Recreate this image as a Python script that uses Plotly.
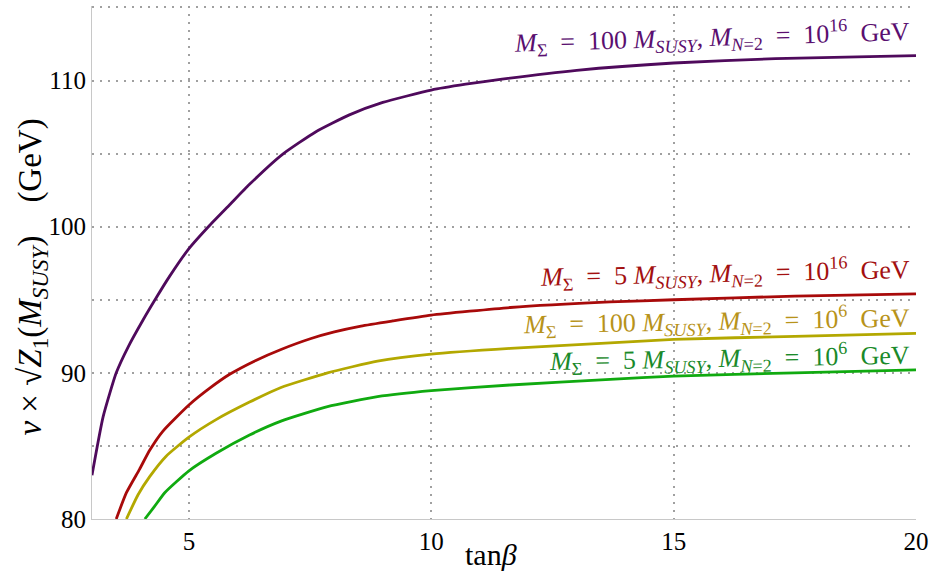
import plotly.graph_objects as go

# tan(beta) samples and curve values
x_purple = [3, 3.23, 3.5, 3.75, 4.05, 4.3, 4.6, 5, 5.43, 5.84, 6.25, 6.93, 7.62, 8.31, 9, 10, 10.71, 11.46, 13, 15, 17.1, 20]
y_purple = [83.0, 87.0, 90.0, 91.8, 93.6, 95.0, 96.6, 98.5, 100.1, 101.5, 102.9, 104.95, 106.5, 107.65, 108.5, 109.35, 109.75, 110.1, 110.7, 111.2, 111.5, 111.7]

x_red = [3.5, 3.71, 3.98, 4.19, 4.46, 5, 5.43, 5.84, 6.38, 6.9, 7.52, 8.0, 8.55, 9.2, 10, 11.63, 13.69, 15, 17.5, 20]
y_red = [80.0, 81.8, 83.4, 84.7, 86.0, 87.8, 88.95, 89.9, 90.85, 91.6, 92.35, 92.8, 93.2, 93.55, 93.95, 94.47, 94.85, 95.0, 95.25, 95.4]

x_yellow = [3.71, 3.95, 4.19, 4.53, 5, 5.56, 6.25, 6.9, 7.86, 8.89, 10, 11.63, 13.69, 15, 17.5, 20]
y_yellow = [80.0, 81.66, 82.9, 84.3, 85.6, 86.8, 88.0, 89.0, 90.0, 90.8, 91.28, 91.67, 92.05, 92.29, 92.5, 92.7]

x_green = [4.09, 4.29, 4.5, 5, 5.56, 6.25, 6.9, 7.86, 8.89, 10, 11.63, 13.69, 15, 17.5, 20]
y_green = [80.0, 80.86, 81.8, 83.3, 84.5, 85.75, 86.7, 87.69, 88.37, 88.78, 89.17, 89.56, 89.78, 90.0, 90.2]

EQ = "&nbsp;&nbsp;=&nbsp;&nbsp;"
labels = [
    f"<i>M</i><sub>Σ</sub>{EQ}100&nbsp;<i>M<sub>SUSY</sub></i>,&nbsp;<i>M</i><sub><i>N</i>=2</sub>{EQ}10<sup>16</sup>&nbsp; GeV",
    f"<i>M</i><sub>Σ</sub>{EQ}5&nbsp;<i>M<sub>SUSY</sub></i>,&nbsp;<i>M</i><sub><i>N</i>=2</sub>{EQ}10<sup>16</sup>&nbsp; GeV",
    f"<i>M</i><sub>Σ</sub>{EQ}100&nbsp;<i>M<sub>SUSY</sub></i>,&nbsp;<i>M</i><sub><i>N</i>=2</sub>{EQ}10<sup>6</sup>&nbsp; GeV",
    f"<i>M</i><sub>Σ</sub>{EQ}5&nbsp;<i>M<sub>SUSY</sub></i>,&nbsp;<i>M</i><sub><i>N</i>=2</sub>{EQ}10<sup>6</sup>&nbsp; GeV",
]
label_y = [112.95, 96.85, 93.55, 91.05]
label_angle = [-1.7, -1.2, -1.0, -1.0]

x_ticks = [5, 10, 15, 20]
y_ticks = [80, 85, 90, 95, 100, 105, 110, 115]
y_ticktext = ["80", "", "90", "", "100", "", "110", ""]

line_colors = ["#4f0a5c", "#a80a0a", "#b3a800", "#10aa10"]
text_colors = ["#5a0f70", "#a31010", "#b8931a", "#1a8a2a"]

FONT = "Liberation Serif"

fig = go.Figure()
for xs, ys, c in [(x_purple, y_purple, line_colors[0]), (x_red, y_red, line_colors[1]),
                  (x_yellow, y_yellow, line_colors[2]), (x_green, y_green, line_colors[3])]:
    fig.add_trace(go.Scatter(x=xs, y=ys, mode="lines",
                             line=dict(color=c, width=2.8, shape="spline", smoothing=0.5),
                             showlegend=False, hoverinfo="skip"))

for txt, yy, ang, col in zip(labels, label_y, label_angle, text_colors):
    fig.add_annotation(x=19.92, y=yy, xref="x", yref="y", text=txt, showarrow=False,
                       xanchor="right", yanchor="middle", textangle=ang,
                       font=dict(family=FONT, size=26, color=col))

# axis titles
fig.add_annotation(x=0.484, y=-0.07, xref="paper", yref="paper", showarrow=False,
                   text="tan<i>β</i>", yanchor="middle", xanchor="center",
                   font=dict(family=FONT, size=30, color="black"))
fig.add_annotation(x=-0.072, y=0.472, xref="paper", yref="paper", showarrow=False,
                   text="<i>v</i>&nbsp;×&nbsp;√<i>Z</i><sub>1</sub>(<i>M<sub>SUSY</sub></i>)&nbsp;&nbsp;&nbsp; (GeV)",
                   textangle=-90, xanchor="center", yanchor="middle",
                   font=dict(family=FONT, size=33, color="black"))

fig.update_xaxes(range=[3, 20], tickvals=x_ticks, showgrid=True, gridcolor="#a0a0a0",
                 griddash="2px,6px", gridwidth=1.8, zeroline=False, showline=True,
                 linecolor="#c8c8c8", linewidth=1.2, ticks="",
                 tickfont=dict(family=FONT, size=25, color="black"))
fig.update_yaxes(range=[80, 115.1], tickvals=y_ticks, ticktext=y_ticktext, showgrid=True,
                 gridcolor="#a0a0a0", griddash="2px,6px", gridwidth=1.8, zeroline=False,
                 showline=True, linecolor="#c8c8c8", linewidth=1.2, ticks="",
                 tickfont=dict(family=FONT, size=25, color="black"))

fig.update_layout(width=935, height=571, plot_bgcolor="white", paper_bgcolor="white",
                  margin=dict(l=92, r=15, t=6, b=52))

fig.write_html("out.html", config={"displayModeBar": False},
               post_script="document.body.style.margin='0';")
